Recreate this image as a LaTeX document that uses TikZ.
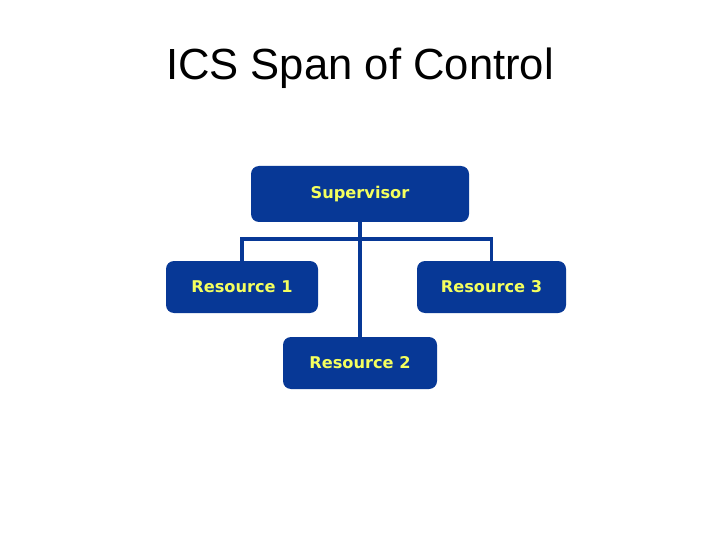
\documentclass[tikz,border=0pt]{standalone}
\usepackage{fontspec}
\setmainfont{Liberation Sans}
\newfontfamily\boxfont{DejaVu Sans}
\usetikzlibrary{positioning}
\definecolor{Navy}{HTML}{073896}
\definecolor{Lemon}{HTML}{F4FF5E}

\tikzset{
  unitbox/.style={fill=Navy,rounded corners=8pt,inner sep=0pt,
    font=\boxfont\bfseries\fontsize{16.2}{19}\selectfont,text=Lemon},
  link/.style={draw=Navy,line width=3.6pt}
}

\begin{document}
\begin{tikzpicture}[x=1pt,y=-1pt]
  \useasboundingbox[fill=white] (0,0) rectangle (720,540);
  \node (title) at (360,68) {\fontsize{43.6}{50}\selectfont ICS Span of Control};
  \node[unitbox,minimum width=218pt,minimum height=56pt] (sup) at (360,194) {Supervisor};
  \node[unitbox,minimum width=152pt,minimum height=52pt] (res1) at (242,287) {Resource 1};
  \node[unitbox,minimum width=149pt,minimum height=52pt] (res3) at (491.5,287) {Resource 3};
  \node[unitbox,minimum width=154pt,minimum height=52pt] (res2) at (360,363) {Resource 2};
  \coordinate (bar) at (360,239);
  \draw[link] (sup.south) -- (res2.north);
  \draw[link] (res1.north) |- (bar) -| (res3.north);
\end{tikzpicture}
\end{document}
